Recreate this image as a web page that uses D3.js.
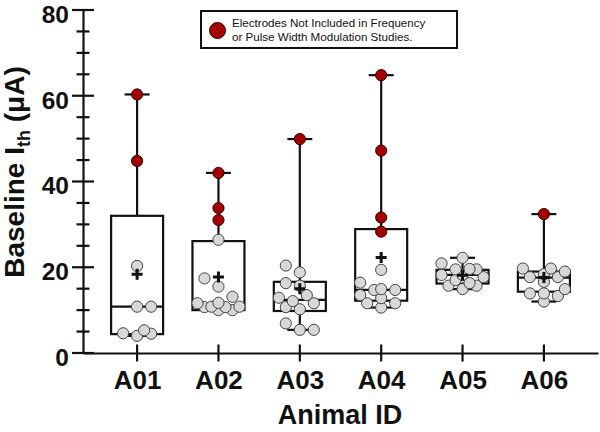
<!DOCTYPE html>
<html>
<head>
<meta charset="utf-8">
<script src="https://cdn.jsdelivr.net/npm/d3@7"></script>
<style>
  html, body { margin: 0; padding: 0; background: #fff; }
  svg { display: block; }
  text { font-family: "Liberation Sans", Arial, sans-serif; fill: #111; }
</style>
</head>
<body>
<svg id="chart" width="600" height="432"></svg>
<script>
// ---- data ----
const categories = ["A01", "A02", "A03", "A04", "A05", "A06"];
const includedValues = [
  [20.3, 10.8, 10.8, 5.3, 4.6, 4.5, 4.0],
  [26.4, 17.4, 15.5, 13.1, 11.7, 11.6, 10.8, 10.8, 10.7, 10.7, 10.0, 10.0],
  [20.4, 18.8, 16.3, 15.7, 13.5, 12.9, 12.1, 11.6, 10.7, 10.2, 6.9, 5.4, 5.4],
  [19.4, 16.4, 14.9, 14.7, 14.7, 13.5, 12.8, 11.6, 11.6, 10.6],
  [22.2, 20.9, 19.6, 19.5, 19.5, 18.2, 18.2, 17.7, 17.0, 16.3, 15.7, 15.7, 14.9],
  [19.7, 19.7, 19.0, 18.4, 17.7, 17.7, 16.6, 14.9, 13.9, 13.9, 13.3, 12.0]
];
const excludedValues = [
  [60.3, 44.8],
  [42.0, 33.8, 31.0],
  [49.9],
  [64.8, 47.2, 31.6, 28.3],
  [],
  [32.4]
];
const whiskerMin = [4.0, 10.0, 5.4, 10.6, 14.9, 12.0];
const quartile1  = [4.4, 10.0, 9.8, 12.2, 16.2, 14.3];
const medians    = [10.8, 11.0, 12.4, 14.7, 18.2, 17.6];
const quartile3  = [32.0, 26.1, 16.6, 28.9, 19.4, 19.0];
const whiskerMax = [60.3, 42.0, 49.9, 64.8, 22.2, 32.4];
const yTicks = [0, 20, 40, 60, 80];
const yMinorTicks = [5, 10, 15, 25, 30, 35, 45, 50, 55, 65, 70, 75];
const legendLines = ["Electrodes Not Included in Frequency", "or Pulse Width Modulation Studies."];

// ---- layout ----
const svg = d3.select("#chart");
const x = d3.scalePoint().domain(categories).range([83, 598]).padding(0.665);
const y = d3.scaleLinear().domain([0, 80]).range([353, 10]);
const R = 5.6, boxHalf = 26, capHalf = 12.5;
const GRAY = "#d8d8d8", RED = "#a50000";

// axes
const yAxis = svg.append("g").attr("transform", "translate(83,0)");
yAxis.call(d3.axisLeft(y).tickValues(yTicks).tickSize(0).tickPadding(14).tickFormat(d3.format("d")));
yAxis.select(".domain").attr("stroke", "#111").attr("stroke-width", 2.2);
yAxis.selectAll(".tick text").attr("font-size", 24.5).attr("font-weight", "bold").attr("dy", "0.5em");
yAxis.selectAll(".major").data(yTicks).enter().append("line")
  .attr("x1", -11).attr("x2", 11).attr("y1", d => y(d)).attr("y2", d => y(d))
  .attr("stroke", "#111").attr("stroke-width", 2.2);
yAxis.selectAll(".minor").data(yMinorTicks).enter().append("line")
  .attr("x1", -6.5).attr("x2", 6.5).attr("y1", d => y(d)).attr("y2", d => y(d))
  .attr("stroke", "#111").attr("stroke-width", 2.2);

const xAxis = svg.append("g").attr("transform", "translate(0,353)");
xAxis.call(d3.axisBottom(x).tickSize(0).tickPadding(22));
xAxis.select(".domain").attr("stroke", "#111").attr("stroke-width", 2.2);
xAxis.selectAll(".tick text").attr("font-size", 26).attr("font-weight", "bold").attr("dy", "0.55em");
xAxis.selectAll(".xt").data(categories).enter().append("line")
  .attr("x1", d => x(d)).attr("x2", d => x(d)).attr("y1", -8.5).attr("y2", 8.5)
  .attr("stroke", "#111").attr("stroke-width", 2.2);

// axis titles
svg.append("text").attr("x", 340).attr("y", 424).attr("text-anchor", "middle")
  .attr("font-size", 27).attr("font-weight", "bold").text("Animal ID");
const yt = svg.append("text").attr("transform", "translate(24,172) rotate(-90)")
  .attr("text-anchor", "middle").attr("font-size", 28).attr("font-weight", "bold");
yt.append("tspan").text("Baseline I");
yt.append("tspan").attr("font-size", 18).attr("dy", 6).text("th");
yt.append("tspan").attr("dy", -6).text(" (\u03bcA)");

// boxes & whiskers
const g = svg.append("g");
categories.forEach((c, i) => {
  const cx = x(c);
  const line = (x1, y1, x2, y2) => g.append("line").attr("x1", x1).attr("y1", y1).attr("x2", x2).attr("y2", y2)
    .attr("stroke", "#111").attr("stroke-width", 2.2);
  line(cx, y(whiskerMax[i]), cx, y(quartile3[i]));
  line(cx, y(whiskerMin[i]), cx, y(quartile1[i]));
  line(cx - capHalf, y(whiskerMax[i]), cx + capHalf, y(whiskerMax[i]));
  line(cx - capHalf, y(whiskerMin[i]), cx + capHalf, y(whiskerMin[i]));
  g.append("rect").attr("x", cx - boxHalf).attr("y", y(quartile3[i]))
    .attr("width", boxHalf * 2).attr("height", y(quartile1[i]) - y(quartile3[i]))
    .attr("fill", "none").attr("stroke", "#111").attr("stroke-width", 2.2);
  line(cx - boxHalf, y(medians[i]), cx + boxHalf, y(medians[i]));
});

// beeswarm placement: grid offsets within a limited width, overlap allowed when crowded
function swarm(points) {
  const placed = [];
  const step = 7, D = 11, kMax = 3;
  points.slice().sort((a, b) => a.v - b.v).forEach(p => {
    const py = y(p.v);
    const cands = [0];
    for (let k = 1; k <= kMax; k++) {
      cands.push(...(placed.length % 2 ? [k * step, -k * step] : [-k * step, k * step]));
    }
    const minDist = ox => placed.length ? d3.min(placed, q => Math.hypot(q.ox - ox, q.py - py)) : Infinity;
    let best = cands.find(ox => minDist(ox) >= D);
    if (best === undefined) best = d3.greatest(cands, ox => minDist(ox));
    placed.push({ ...p, ox: best, py });
  });
  return placed;
}

categories.forEach((c, i) => {
  const pts = includedValues[i].map(v => ({ v, red: false }))
    .concat(excludedValues[i].map(v => ({ v, red: true })));
  const placed = swarm(pts);
  g.selectAll(null).data(placed).enter().append("circle")
    .attr("cx", d => x(c) + d.ox).attr("cy", d => d.py).attr("r", R)
    .attr("fill", d => d.red ? RED : GRAY)
    .attr("stroke", d => d.red ? "#300" : "#444").attr("stroke-width", 1);
  const m = d3.mean(pts, d => d.v);
  const mx = x(c), my = y(m);
  g.append("path").attr("d", `M${mx - 5.5},${my}H${mx + 5.5}M${mx},${my - 5.5}V${my + 5.5}`)
    .attr("stroke", "#111").attr("stroke-width", 3);
});

// legend
const lg = svg.append("g");
lg.append("rect").attr("x", 201).attr("y", 11).attr("width", 256).attr("height", 37)
  .attr("fill", "#fff").attr("stroke", "#111").attr("stroke-width", 2);
lg.append("circle").attr("cx", 217.5).attr("cy", 30.5).attr("r", 8)
  .attr("fill", RED).attr("stroke", "#300").attr("stroke-width", 1);
lg.selectAll(".lt").data(legendLines).enter().append("text")
  .attr("x", 232).attr("y", (d, i) => 26.5 + i * 14.5)
  .attr("font-size", 11.6).text(d => d);
</script>
</body>
</html>
